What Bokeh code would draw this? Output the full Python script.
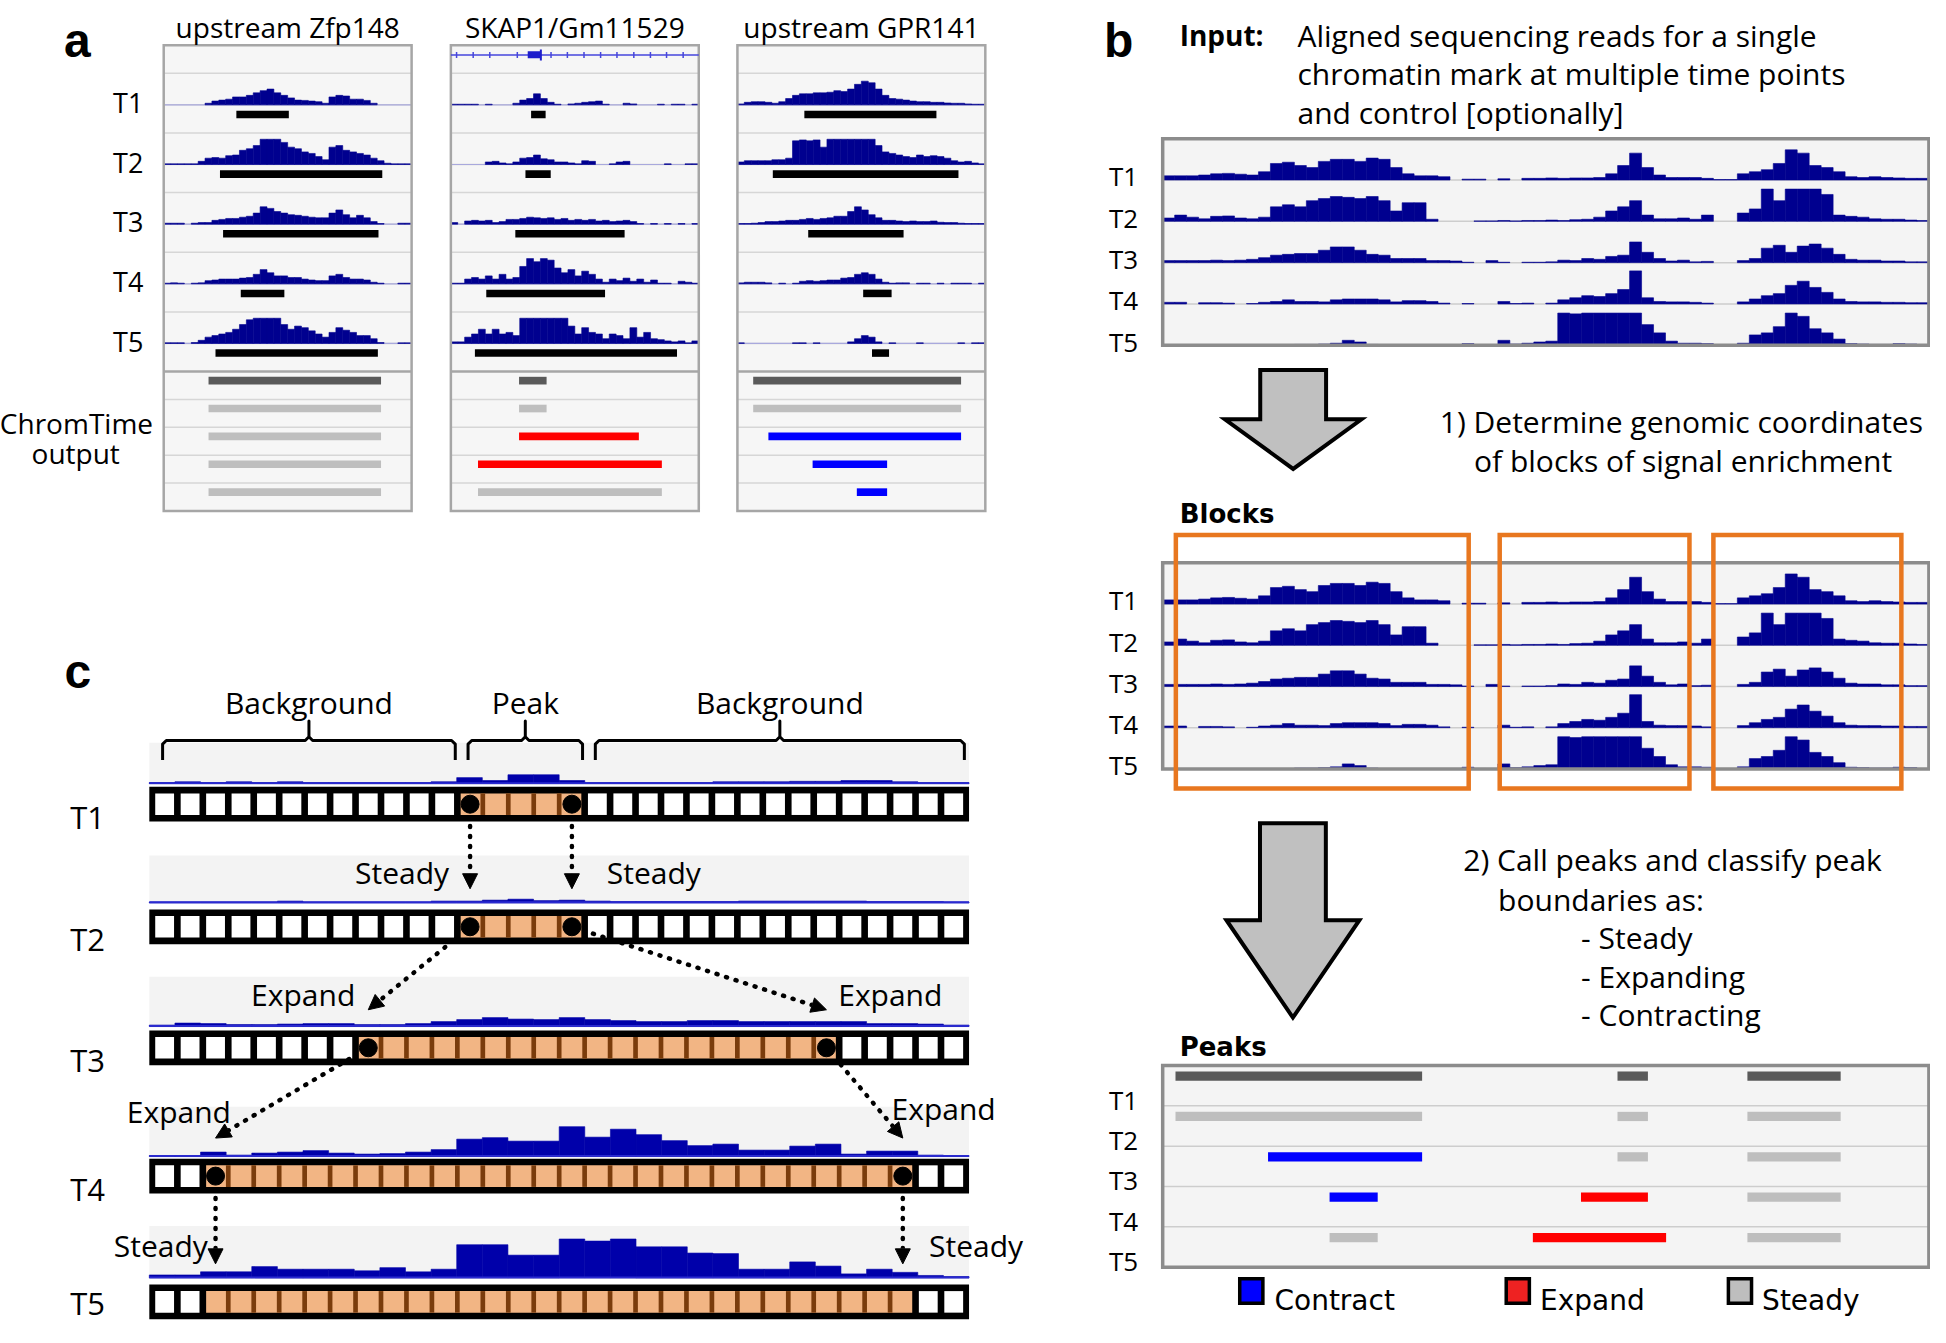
import math
from bokeh.plotting import figure
from bokeh.models import Range1d, Arrow, NormalHead
from bokeh.embed import file_html
from bokeh.resources import INLINE
from bokeh.core.properties import value

# ============================ DATA ============================
TIME_POINTS = ["T1", "T2", "T3", "T4", "T5"]

# ---- panel a : three loci, read signal in 36 genomic bins (fraction of track height)
LOCUS_NAMES = ["upstream Zfp148", "SKAP1/Gm11529", "upstream GPR141"]

ZFP148_SIGNAL = [
    [0, 0, 0, 0, 0, 0, 0.05, 0.12, 0.15, 0.18, 0.25, 0.25, 0.3, 0.38, 0.45, 0.5, 0.38, 0.3, 0.22, 0.15, 0.14, 0.12, 0.1, 0.05, 0.25, 0.3, 0.28, 0.18, 0.18, 0.14, 0.05, 0, 0, 0, 0, 0],
    [0.02, 0.02, 0.02, 0.02, 0.02, 0.1, 0.2, 0.22, 0.2, 0.28, 0.3, 0.45, 0.5, 0.6, 0.8, 0.8, 0.8, 0.7, 0.55, 0.5, 0.4, 0.35, 0.25, 0.15, 0.55, 0.6, 0.45, 0.4, 0.35, 0.3, 0.2, 0.12, 0.04, 0.02, 0.02, 0.02],
    [0.03, 0.03, 0.03, 0, 0.03, 0.05, 0.05, 0.12, 0.15, 0.18, 0.18, 0.22, 0.25, 0.35, 0.55, 0.5, 0.4, 0.35, 0.3, 0.28, 0.25, 0.22, 0.2, 0.2, 0.35, 0.45, 0.3, 0.2, 0.28, 0.2, 0.08, 0.02, 0, 0, 0.03, 0.03],
    [0.02, 0.03, 0.02, 0, 0.02, 0.03, 0.1, 0.12, 0.15, 0.15, 0.15, 0.18, 0.2, 0.3, 0.45, 0.35, 0.25, 0.25, 0.2, 0.2, 0.15, 0.12, 0.1, 0.1, 0.25, 0.3, 0.2, 0.15, 0.15, 0.12, 0.05, 0.02, 0, 0, 0.02, 0.02],
    [0.02, 0.02, 0.02, 0, 0.03, 0.1, 0.2, 0.25, 0.3, 0.35, 0.45, 0.6, 0.75, 0.8, 0.8, 0.8, 0.8, 0.6, 0.45, 0.55, 0.5, 0.4, 0.3, 0.2, 0.35, 0.5, 0.42, 0.35, 0.25, 0.25, 0.15, 0.03, 0, 0, 0.02, 0.02],
]
SKAP1_SIGNAL = [
    [0.02, 0.02, 0.02, 0.02, 0, 0.02, 0, 0, 0, 0.05, 0.15, 0.2, 0.35, 0.2, 0.08, 0.02, 0, 0.03, 0.05, 0.08, 0.1, 0.12, 0.02, 0, 0, 0.05, 0.03, 0, 0, 0, 0.02, 0, 0.02, 0.02, 0, 0.02],
    [0, 0, 0, 0, 0, 0.08, 0.1, 0.05, 0.02, 0.08, 0.2, 0.22, 0.3, 0.18, 0.15, 0.08, 0.08, 0.05, 0.02, 0.12, 0.1, 0, 0, 0.02, 0.08, 0.1, 0, 0, 0, 0, 0, 0.02, 0, 0, 0.02, 0.02],
    [0.05, 0, 0.1, 0.12, 0.1, 0.12, 0.05, 0.08, 0.15, 0.15, 0.18, 0.22, 0.2, 0.18, 0.2, 0.15, 0.18, 0.12, 0.15, 0.12, 0.15, 0.1, 0.12, 0.08, 0.1, 0.12, 0.08, 0.02, 0, 0.02, 0, 0.02, 0, 0.02, 0, 0.02],
    [0.02, 0.02, 0.15, 0.2, 0.15, 0.25, 0.15, 0.3, 0.15, 0.2, 0.55, 0.8, 0.7, 0.8, 0.75, 0.5, 0.35, 0.45, 0.25, 0.4, 0.3, 0.15, 0.05, 0.15, 0.1, 0.18, 0.08, 0.15, 0.05, 0.12, 0.02, 0.02, 0, 0.08, 0.05, 0.02],
    [0.05, 0.05, 0.2, 0.3, 0.45, 0.3, 0.45, 0.3, 0.35, 0.25, 0.8, 0.8, 0.8, 0.8, 0.8, 0.8, 0.8, 0.55, 0.3, 0.5, 0.35, 0.3, 0.15, 0.3, 0.25, 0.15, 0.5, 0.2, 0.35, 0.15, 0.12, 0.08, 0.05, 0.08, 0.02, 0.08],
]
GPR141_SIGNAL = [
    [0.03, 0.08, 0.1, 0.1, 0.08, 0.05, 0.1, 0.2, 0.3, 0.35, 0.35, 0.38, 0.38, 0.4, 0.45, 0.42, 0.5, 0.65, 0.75, 0.7, 0.5, 0.3, 0.2, 0.18, 0.15, 0.12, 0.1, 0.1, 0.08, 0.08, 0.06, 0.05, 0.05, 0.03, 0.02, 0.02],
    [0.08, 0.12, 0.12, 0.12, 0.12, 0.15, 0.15, 0.2, 0.75, 0.78, 0.75, 0.78, 0.55, 0.8, 0.8, 0.8, 0.8, 0.8, 0.8, 0.8, 0.6, 0.4, 0.35, 0.3, 0.25, 0.22, 0.3, 0.25, 0.28, 0.25, 0.2, 0.12, 0.08, 0.1, 0.05, 0.02],
    [0.02, 0.02, 0.03, 0.05, 0.08, 0.08, 0.1, 0.12, 0.12, 0.15, 0.18, 0.15, 0.18, 0.2, 0.25, 0.25, 0.4, 0.55, 0.45, 0.3, 0.2, 0.12, 0.12, 0.1, 0.08, 0.1, 0.08, 0.08, 0.1, 0.06, 0.05, 0.05, 0.03, 0.02, 0.02, 0.02],
    [0.03, 0.05, 0.05, 0.05, 0.03, 0, 0.02, 0, 0.02, 0.08, 0.1, 0.08, 0.1, 0.12, 0.12, 0.18, 0.2, 0.3, 0.35, 0.3, 0.15, 0.05, 0.02, 0.03, 0.03, 0, 0.02, 0.02, 0, 0.02, 0, 0.02, 0.02, 0.02, 0, 0.02],
    [0.02, 0, 0, 0, 0, 0, 0, 0, 0.02, 0.02, 0, 0.02, 0, 0, 0, 0, 0.05, 0.15, 0.25, 0.2, 0.05, 0, 0.02, 0, 0, 0, 0.02, 0, 0, 0, 0, 0, 0.02, 0, 0.02, 0.02],
]

# single-time-point peak calls (start bin, end bin) per time point
ZFP148_CALLS = [(10.55, 18.17), (8.17, 31.74), (8.62, 31.19), (11.19, 17.52), (7.52, 31.1)]
SKAP1_CALLS = [(11.65, 13.76), (10.83, 14.5), (9.36, 25.23), (5.14, 22.39), (3.49, 32.84)]
GPR141_CALLS = [(9.72, 28.9), (5.14, 32.1), (10.28, 24.13), (18.26, 22.39), (19.54, 22.02)]

# ChromTime output per time point (start bin, end bin, boundary class)
ZFP148_OUTPUT = [(6.51, 31.56, "first"), (6.51, 31.56, "steady"), (6.51, 31.56, "steady"), (6.51, 31.56, "steady"), (6.51, 31.56, "steady")]
SKAP1_OUTPUT = [(9.9, 13.9, "first"), (9.9, 13.9, "steady"), (9.9, 27.3, "expand"), (3.94, 30.64, "expand"), (3.94, 30.64, "steady")]
GPR141_OUTPUT = [(2.29, 32.48, "first"), (2.29, 32.48, "steady"), (4.5, 32.48, "contract"), (10.92, 21.74, "contract"), (17.34, 21.74, "contract")]

# gene model of the SKAP1 locus (fractions of the locus width)
SKAP1_EXON = (0.31, 0.363)
SKAP1_STRAND_TICKS = [0.023, 0.09, 0.157, 0.268, 0.404, 0.47, 0.537, 0.604, 0.67, 0.738, 0.805, 0.87, 0.937]

# ---- panel b : input signal, 64 bins per time point (fraction of row height)
INPUT_T1 = [0.1, 0.1, 0.1, 0.12, 0.15, 0.16, 0.14, 0.12, 0.2, 0.4, 0.43, 0.35, 0.3, 0.45, 0.5, 0.5,
            0.45, 0.53, 0.5, 0.3, 0.15, 0.1, 0.1, 0.08, 0, 0.02, 0.02, 0, 0.03, 0, 0.04, 0.04,
            0.05, 0.04, 0.05, 0.05, 0.06, 0.15, 0.35, 0.65, 0.3, 0.12, 0.06, 0.06, 0.06, 0.04, 0.01, 0.01,
            0.15, 0.2, 0.25, 0.4, 0.73, 0.65, 0.35, 0.3, 0.2, 0.08, 0.06, 0.08, 0.06, 0.05, 0.04, 0.04]
INPUT_T2 = [0.08, 0.15, 0.1, 0.06, 0.12, 0.13, 0.08, 0.06, 0.1, 0.35, 0.4, 0.35, 0.5, 0.55, 0.6, 0.58,
            0.55, 0.6, 0.5, 0.25, 0.45, 0.45, 0.05, 0, 0, 0, 0.01, 0.01, 0.02, 0.01, 0.02, 0.02,
            0.03, 0.02, 0.04, 0.05, 0.1, 0.25, 0.35, 0.5, 0.15, 0.06, 0.06, 0.08, 0.05, 0.15, 0, 0,
            0.2, 0.3, 0.78, 0.5, 0.78, 0.78, 0.78, 0.65, 0.15, 0.12, 0.1, 0.06, 0.05, 0.05, 0.03, 0.02]
INPUT_T3 = [0.05, 0.05, 0.05, 0.05, 0.06, 0.05, 0.06, 0.08, 0.12, 0.18, 0.2, 0.22, 0.22, 0.3, 0.38, 0.38,
            0.3, 0.2, 0.18, 0.1, 0.1, 0.1, 0.05, 0.05, 0.04, 0.01, 0, 0.05, 0.01, 0, 0.01, 0.01,
            0.02, 0.06, 0.05, 0.1, 0.08, 0.15, 0.18, 0.5, 0.25, 0.1, 0.04, 0.06, 0.02, 0.03, 0, 0,
            0.05, 0.1, 0.35, 0.42, 0.25, 0.4, 0.45, 0.35, 0.2, 0.08, 0.06, 0.06, 0.04, 0.04, 0.02, 0.02]
INPUT_T4 = [0.04, 0.04, 0, 0.03, 0.03, 0.02, 0, 0.01, 0.04, 0.06, 0.1, 0.06, 0.06, 0.05, 0.1, 0.12,
            0.12, 0.12, 0.1, 0.05, 0.08, 0.08, 0.06, 0.02, 0, 0.01, 0, 0, 0.06, 0.01, 0.02, 0,
            0.02, 0.1, 0.15, 0.2, 0.18, 0.25, 0.35, 0.8, 0.15, 0.06, 0.05, 0.05, 0.04, 0.02, 0, 0,
            0.05, 0.12, 0.2, 0.25, 0.45, 0.55, 0.4, 0.28, 0.12, 0.06, 0.05, 0.05, 0.04, 0.04, 0.03, 0.03]
INPUT_T5 = [0, 0, 0, 0, 0, 0, 0, 0, 0, 0, 0, 0.02, 0.02, 0.03, 0.05, 0.12,
            0.08, 0.02, 0, 0, 0, 0, 0, 0, 0, 0.04, 0.01, 0, 0.12, 0.03, 0.05, 0.08,
            0.1, 0.78, 0.76, 0.78, 0.78, 0.78, 0.78, 0.78, 0.5, 0.3, 0.1, 0.05, 0.05, 0.04, 0, 0,
            0.05, 0.25, 0.3, 0.45, 0.78, 0.7, 0.4, 0.3, 0.15, 0.04, 0.03, 0.02, 0.02, 0.04, 0.03, 0]

# blocks of signal enrichment (bin coordinates)
BLOCK_START = [1.1, 28.15, 46.0]
BLOCK_END = [25.56, 44.0, 61.7]

# ChromTime peaks (time index, start bin, end bin, class)
PEAK_TIME = [0, 1, 2, 3, 4, 0, 1, 2, 3, 4, 0, 1, 2, 3, 4]
PEAK_START = [1.07, 1.07, 8.8, 13.94, 13.94, 37.99, 37.99, 37.99, 34.94, 30.92, 48.84, 48.84, 48.84, 48.84, 48.84]
PEAK_END = [21.67, 21.67, 21.67, 17.96, 17.96, 40.53, 40.53, 40.53, 40.53, 42.05, 56.63, 56.63, 56.63, 56.63, 56.63]
PEAK_CLASS = ["first", "steady", "contract", "contract", "steady",
              "first", "steady", "steady", "expand", "expand",
              "first", "steady", "steady", "steady", "steady"]

LEGEND_LABELS = ["Contract", "Expand", "Steady"]
LEGEND_CLASSES = ["contract", "expand_legend", "steady_legend"]

# ---- panel c : toy model, 32 genomic bins
C_SIGNAL_T1 = [0.03, 0.05, 0.03, 0.05, 0.03, 0.05, 0.03, 0.03, 0.03, 0.03, 0.03, 0.05, 0.15, 0.08, 0.22, 0.22,
               0.08, 0.03, 0.03, 0.03, 0.03, 0.03, 0.05, 0.05, 0.05, 0.06, 0.06, 0.08, 0.08, 0.05, 0.03, 0.03]
C_SIGNAL_T2 = [0.02, 0.02, 0.02, 0.02, 0.02, 0.04, 0.02, 0.02, 0.02, 0.02, 0.02, 0.04, 0.04, 0.06, 0.08, 0.05,
               0.06, 0.04, 0.03, 0.03, 0.03, 0.03, 0.03, 0.04, 0.04, 0.04, 0.04, 0.04, 0.03, 0.03, 0.03, 0.02]
C_SIGNAL_T3 = [0.03, 0.07, 0.06, 0.04, 0.04, 0.05, 0.06, 0.06, 0.04, 0.04, 0.06, 0.1, 0.14, 0.18, 0.15, 0.14,
               0.18, 0.14, 0.12, 0.1, 0.1, 0.12, 0.12, 0.1, 0.1, 0.1, 0.1, 0.1, 0.06, 0.06, 0.05, 0.03]
C_SIGNAL_T4 = [0.02, 0.02, 0.09, 0.03, 0.07, 0.09, 0.12, 0.07, 0.05, 0.06, 0.09, 0.14, 0.35, 0.38, 0.31, 0.31,
               0.6, 0.39, 0.55, 0.44, 0.32, 0.22, 0.25, 0.13, 0.13, 0.21, 0.25, 0.05, 0.11, 0.11, 0.03, 0.02]
C_SIGNAL_T5 = [0.06, 0.06, 0.12, 0.12, 0.22, 0.17, 0.17, 0.17, 0.14, 0.2, 0.12, 0.17, 0.64, 0.64, 0.44, 0.44,
               0.75, 0.71, 0.75, 0.6, 0.6, 0.48, 0.47, 0.17, 0.17, 0.31, 0.23, 0.08, 0.17, 0.11, 0.05, 0.03]
C_PEAK_FIRST_BIN = [12, 12, 8, 2, 2]
C_PEAK_LAST_BIN = [16, 16, 26, 29, 29]
C_TRANSITIONS = ["Steady", "Expand", "Expand", "Steady"]
C_REGIONS = ["Background", "Peak", "Background"]

# ============================ STYLE ============================
SANS = "Open Sans"
LUCIDA = "DejaVu Sans"
LETTER = "Liberation Sans"
NAVY = "#00008f"
C_NAVY = "#0000aa"
CLASS_COLOR = {"first": "#5a5a5a", "steady": "#bebebe", "expand": "#ff0000",
               "contract": "#0000ff", "expand_legend": "#ee2222", "steady_legend": "#bebebe"}

p = figure(width=1930, height=1327, x_range=Range1d(0, 1568), y_range=Range1d(1086, -4),
           output_backend="svg", toolbar_location=None, min_border=0,
           x_axis_location=None, y_axis_location=None)
p.xgrid.visible = False
p.ygrid.visible = False
p.outline_line_color = None
p.background_fill_color = "white"
p.border_fill_color = "white"


def txt(x, y, s, size, font=SANS, bold=False, align="left"):
    p.text(x=[x], y=[y], text=[s], text_font=value(font), text_font_size=f"{size}px",
           text_font_style="bold" if bold else "normal", text_align=align,
           text_baseline="alphabetic", text_color="black")


def hlines(x0, x1, ys, color, width):
    p.segment(x0=[x0] * len(ys), x1=[x1] * len(ys), y0=list(ys), y1=list(ys),
              line_color=color, line_width=width)


def signal(vals, x0, x1, base, h, color):
    bw = (x1 - x0) / len(vals)
    L, R, T, B = [], [], [], []
    for i, v in enumerate(vals):
        if v <= 0:
            continue
        L.append(x0 + i * bw)
        R.append(x0 + (i + 1) * bw)
        T.append(base - v * h)
        B.append(base)
    p.quad(left=L, right=R, top=T, bottom=B, fill_color=color, line_color=color, line_width=0.6)


def frame(x0, x1, y0, y1, color, width, fill=None):
    p.quad(left=[x0], right=[x1], top=[y0], bottom=[y1], fill_color=fill,
           line_color=color, line_width=width, line_join="miter")


# ============================ PANEL A ============================
A_X0 = [132.6, 365.9, 598.7]
A_W = 201.4
A_TOP = 32.7
A_GENE_H, A_SIG_H, A_BAR_H, A_OUT_H = 23.1, 25.9, 23.1, 22.9
sig_tops = [A_TOP + A_GENE_H + i * (A_SIG_H + A_BAR_H) for i in range(5)]
bar_tops = [s + A_SIG_H for s in sig_tops]
out_top = bar_tops[-1] + A_BAR_H
out_tops = [out_top + i * A_OUT_H for i in range(5)]
a_bottom = out_top + 5 * A_OUT_H

a_signals = [ZFP148_SIGNAL, SKAP1_SIGNAL, GPR141_SIGNAL]
a_calls = [ZFP148_CALLS, SKAP1_CALLS, GPR141_CALLS]
a_outputs = [ZFP148_OUTPUT, SKAP1_OUTPUT, GPR141_OUTPUT]

txt(62.4, 28.6, "a", 48, font=LETTER, bold=True, align="center")
for j in range(3):
    x0 = A_X0[j]
    x1 = x0 + A_W
    nb = len(a_signals[j][0])
    bw = A_W / nb
    p.quad(left=[x0], right=[x1], top=[A_TOP], bottom=[a_bottom], fill_color="#f6f6f6", line_color=None)
    seps = bar_tops + sig_tops + out_tops[1:]
    hlines(x0, x1, seps, "#d6d6d6", 1.5)
    for i in range(5):
        base = bar_tops[i]
        hlines(x0, x1, [base], "#a9a9dd", 1.2)
        signal(a_signals[j][i], x0, x1, base, A_SIG_H, NAVY)
        s, e = a_calls[j][i]
        p.quad(left=[x0 + s * bw], right=[x0 + e * bw], top=[base + 4.8], bottom=[base + 11.0],
               fill_color="black", line_color=None)
    for i, (s, e, c) in enumerate(a_outputs[j]):
        p.quad(left=[x0 + s * bw], right=[x0 + e * bw], top=[out_tops[i] + 4.3], bottom=[out_tops[i] + 10.6],
               fill_color=CLASS_COLOR[c], line_color=None)
    hlines(x0, x1, [out_top], "#a6a6a6", 2.5)
    frame(x0, x1, A_TOP, a_bottom, "#a6a6a6", 2.5)
    txt(x0 + A_W / 2, 17.7, LOCUS_NAMES[j], 28, align="center")

# SKAP1 gene model
gx0 = A_X0[1]
gy = A_TOP + 8.1
hlines(gx0, gx0 + A_W, [gy], "#4646dc", 1.6)
p.scatter(x=[gx0 + f * A_W for f in SKAP1_STRAND_TICKS], y=[gy] * len(SKAP1_STRAND_TICKS),
          marker="dash", angle=math.pi / 2, size=6, line_color="#4646dc", line_width=1.5)
p.quad(left=[gx0 + SKAP1_EXON[0] * A_W], right=[gx0 + SKAP1_EXON[1] * A_W], top=[gy - 3.2], bottom=[gy + 2.7],
       fill_color="#1e1ecc", line_color=None)
p.segment(x0=[gx0 + SKAP1_EXON[1] * A_W], x1=[gx0 + SKAP1_EXON[1] * A_W], y0=[gy - 4.5], y1=[gy + 4.5],
          line_color="#1e1ecc", line_width=2)

for i, t in enumerate(TIME_POINTS):
    txt(103.8, bar_tops[i] - 2.0, t, 27, align="center")
txt(61.7, 342.7, "ChromTime", 28, align="center")
txt(61.1, 367.7, "output", 28, align="center")

# ============================ PANEL B ============================
B_X0, B_X1 = 944.2, 1566.7
B_NBINS = len(INPUT_T1)
B_BW = (B_X1 - B_X0) / B_NBINS
input_signals = [INPUT_T1, INPUT_T2, INPUT_T3, INPUT_T4, INPUT_T5]
T_LABEL_X = 912.4


def signal_box(top, rh, with_signal=True):
    bottom = top + 5 * rh
    p.quad(left=[B_X0], right=[B_X1], top=[top], bottom=[bottom], fill_color="#f4f4f4", line_color=None)
    hlines(B_X0, B_X1, [top + k * rh for k in range(1, 5)], "#cdcdcd", 1.5)
    for i in range(5):
        base = top + (i + 1) * rh
        if with_signal:
            signal(input_signals[i], B_X0, B_X1, base, rh, NAVY)
        txt(T_LABEL_X, base - 3.0, TIME_POINTS[i], 26, align="center")
    frame(B_X0, B_X1, top, bottom, "#8c8c8c", 3.5)
    return bottom


def big_arrow(cx, top, head_y, tip_y, shaft_hw, head_hw):
    xs = [cx - shaft_hw, cx + shaft_hw, cx + shaft_hw, cx + head_hw, cx, cx - head_hw, cx - shaft_hw]
    ys = [top, top, head_y, head_y, tip_y, head_y, head_y]
    p.patch(xs, ys, fill_color="#c0c0c0", line_color="black", line_width=4, line_join="miter")


txt(908.5, 28.6, "b", 48, font=LETTER, bold=True, align="center")
txt(958, 24.5, "Input:", 28, bold=True)
txt(1053.7, 24.5, "Aligned sequencing reads for a single", 30)
txt(1053.7, 55.8, "chromatin mark at multiple time points", 30)
txt(1053.7, 88.0, "and control [optionally]", 30)

signal_box(109.5, 33.94)
big_arrow(1050.2, 299.6, 340.0, 380.8, 26.75, 55.5)
txt(1365.6, 341.9, "1) Determine genomic coordinates", 30, align="center")
txt(1367.0, 373.7, "of blocks of signal enrichment", 30, align="center")

txt(958, 418.0, "Blocks", 26, font=LUCIDA, bold=True)
signal_box(457.9, 33.85)
p.quad(left=[B_X0 + s * B_BW for s in BLOCK_START], right=[B_X0 + e * B_BW for e in BLOCK_END],
       top=[435.1] * 3, bottom=[643.2] * 3, fill_color=None, line_color="#e8771f", line_width=4.5,
       line_join="miter")

big_arrow(1050.0, 671.9, 751.4, 831.4, 26.75, 54.0)
txt(1188.4, 701.5, "2) Call peaks and classify peak", 30)
txt(1216.7, 734.1, "boundaries as:", 30)
txt(1284.1, 765.8, "- Steady", 30)
txt(1284.1, 797.6, "- Expanding", 30)
txt(1284.1, 829.3, "- Contracting", 30)

txt(958, 855.5, "Peaks", 26, font=LUCIDA, bold=True)
PK_TOP, PK_RH = 870.7, 33.16
pk_bottom = PK_TOP + 5 * PK_RH
p.quad(left=[B_X0], right=[B_X1], top=[PK_TOP], bottom=[pk_bottom], fill_color="#f4f4f4", line_color=None)
hlines(B_X0, B_X1, [PK_TOP + k * PK_RH for k in range(1, 5)], "#cdcdcd", 1.5)
p.quad(left=[B_X0 + s * B_BW for s in PEAK_START], right=[B_X0 + e * B_BW for e in PEAK_END],
       top=[PK_TOP + t * PK_RH + 5.0 for t in PEAK_TIME], bottom=[PK_TOP + t * PK_RH + 12.6 for t in PEAK_TIME],
       fill_color=[CLASS_COLOR[c] for c in PEAK_CLASS], line_color=None)
frame(B_X0, B_X1, PK_TOP, pk_bottom, "#8c8c8c", 3.5)
for i, t in enumerate(TIME_POINTS):
    txt(T_LABEL_X, PK_TOP + (i + 1) * PK_RH - 5.0, t, 26, align="center")

LEG_SQ_X = [1006.8, 1223.3, 1403.8]
LEG_TXT_X = [1035.0, 1250.7, 1431.2]
for k, lab in enumerate(LEGEND_LABELS):
    frame(LEG_SQ_X[k], LEG_SQ_X[k] + 18.8, 1046.0, 1066.0, "black", 3.5, fill=CLASS_COLOR[LEGEND_CLASSES[k]])
    txt(LEG_TXT_X[k], 1064.0, lab, 28, font=LUCIDA)

# ============================ PANEL C ============================
C_X0, C_BORDER, C_PITCH, C_CELL_W, C_N = 120.9, 4.8, 20.68, 15.3, 32
C_X1 = C_X0 + 2 * C_BORDER + (C_N - 1) * C_PITCH + C_CELL_W
C_ROW_TOPS = [641.9, 742.6, 842.0, 947.4, 1050.7]
C_ROW_H, C_INSET = 28.5, 5.4
C_STRIP_TOPS = [605.6, 698.2, 797.9, 904.7, 1002.6]
C_STRIP_BOTS = [639.4, 737.3, 838.8, 945.6, 1045.4]
c_signals = [C_SIGNAL_T1, C_SIGNAL_T2, C_SIGNAL_T3, C_SIGNAL_T4, C_SIGNAL_T5]


def cell_left(k):
    return C_X0 + C_BORDER + k * C_PITCH


def cell_center(k):
    return cell_left(k) + C_CELL_W / 2


txt(62.8, 546.9, "c", 48, font=LETTER, bold=True, align="center")

for i in range(5):
    st, sb = C_STRIP_TOPS[i], C_STRIP_BOTS[i]
    p.quad(left=[C_X0], right=[C_X1], top=[st], bottom=[sb], fill_color="#f3f3f3", line_color=None)
    signal(c_signals[i], C_X0, C_X1, sb, sb - st, C_NAVY)
    hlines(C_X0, C_X1, [sb - 0.6], "#2a2ad0", 1.8)

    top = C_ROW_TOPS[i]
    bot = top + C_ROW_H
    p.quad(left=[C_X0], right=[C_X1], top=[top], bottom=[bot], fill_color="black", line_color=None)
    a, b = C_PEAK_FIRST_BIN[i], C_PEAK_LAST_BIN[i]
    whites = [k for k in range(C_N) if k < a or k > b]
    p.quad(left=[cell_left(k) for k in whites], right=[cell_left(k) + C_CELL_W for k in whites],
           top=[top + C_INSET] * len(whites), bottom=[bot - C_INSET] * len(whites),
           fill_color="white", line_color=None)
    p.quad(left=[cell_left(a)], right=[cell_left(b) + C_CELL_W], top=[top + C_INSET], bottom=[bot - C_INSET],
           fill_color="#f2b584", line_color=None)
    stripes = [cell_left(k + 1) - (C_PITCH - C_CELL_W) / 2 for k in range(a, b)]
    p.quad(left=[x - 1.9 for x in stripes], right=[x + 1.9 for x in stripes],
           top=[top + C_INSET] * len(stripes), bottom=[bot - C_INSET] * len(stripes),
           fill_color="#7a3c0c", line_color=None)
    if i < 4:
        p.scatter(x=[cell_center(a), cell_center(b)], y=[top + C_ROW_H / 2] * 2, size=18,
                  fill_color="black", line_color="black")
    txt(70.8, min(bot - 4.0, 1066.0), TIME_POINTS[i], 31, align="center")

# transitions (dotted arrows)
for i in range(4):
    for src_k, dst_k in ((C_PEAK_FIRST_BIN[i], C_PEAK_FIRST_BIN[i + 1]), (C_PEAK_LAST_BIN[i], C_PEAK_LAST_BIN[i + 1])):
        sx, sy = cell_center(src_k), C_ROW_TOPS[i] + C_ROW_H / 2
        ex, ey = cell_center(dst_k), C_ROW_TOPS[i + 1] - 17.0
        d = math.hypot(ex - sx, ey - sy)
        ux, uy = (ex - sx) / d, (ey - sy) / d
        p.add_layout(Arrow(end=NormalHead(size=15, fill_color="black", line_color="black", line_width=1),
                           x_start=sx + ux * 18, y_start=sy + uy * 18, x_end=ex, y_end=ey,
                           line_width=4.5, line_dash="1 9", line_cap="round", line_color="black"))

C_LABEL_POS = [((326.3, 712.4), (530.8, 712.4)), ((245.9, 812.1), (722.9, 812.1)),
               ((144.9, 908.3), (766.2, 906.5)), ((130.3, 1018.6), (792.6, 1018.6))]
for i, lab in enumerate(C_TRANSITIONS):
    for (x, y) in C_LABEL_POS[i]:
        txt(x, y, lab, 30, align="center")

# braces over the T1 bins
region_bins = [(0, C_PEAK_FIRST_BIN[0] - 1), (C_PEAK_FIRST_BIN[0], C_PEAK_LAST_BIN[0]), (C_PEAK_LAST_BIN[0] + 1, C_N - 1)]
yb, yh, yt, r = 619.9, 603.8, 587.8, 3.0
for (ka, kb), lab in zip(region_bins, C_REGIONS):
    xa = cell_left(ka) + 6
    xb = cell_left(kb) + C_CELL_W + 1
    xm = (xa + xb) / 2
    p.line(x=[xa, xa, xa + r, xm - r, xm, xm, xm, xm + r, xb - r, xb, xb],
           y=[yb, yh + r, yh, yh, yh - r, yt, yh - r, yh, yh, yh + r, yb],
           line_color="black", line_width=3, line_join="round")
    txt(xm, 572.9, lab, 30, align="center")

open("out.html", "w").write(file_html(p, INLINE))
